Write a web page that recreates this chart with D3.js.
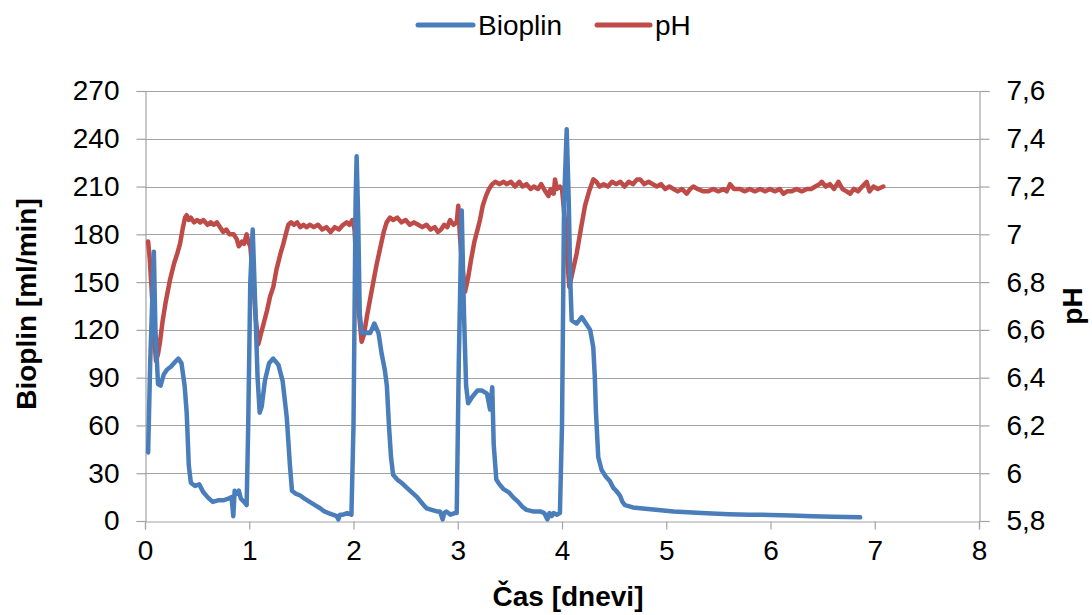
<!DOCTYPE html>
<html>
<head>
<meta charset="utf-8">
<script src="https://cdn.jsdelivr.net/npm/d3@7/dist/d3.min.js"></script>
<style>
  html, body { margin: 0; padding: 0; background: #fff; }
  svg { display: block; }
  text { font-family: "Liberation Sans", Arial, sans-serif; fill: #000; }
</style>
</head>
<body>
<svg id="chart" width="1092" height="615"></svg>
<script>
// ---------------- DATA ----------------
const seriesNames = ["Bioplin", "pH"];
const xTicks = [0, 1, 2, 3, 4, 5, 6, 7, 8];
const leftTicks = [0, 30, 60, 90, 120, 150, 180, 210, 240, 270];
const rightTicks = [5.8, 6.0, 6.2, 6.4, 6.6, 6.8, 7.0, 7.2, 7.4, 7.6];

const bioplinDays = [
  0.03, 0.05, 0.085, 0.10, 0.125, 0.15, 0.18, 0.21, 0.25, 0.29, 0.32, 0.35, 0.38, 0.40, 0.42, 0.44, 0.48, 0.52, 0.56, 0.60,
  0.65, 0.70, 0.75, 0.80, 0.83, 0.847, 0.86, 0.88, 0.90, 0.92, 0.95, 0.975, 0.99, 1.01, 1.033, 1.05, 1.08, 1.10, 1.12, 1.15,
  1.19, 1.23, 1.28, 1.32, 1.36, 1.39, 1.41, 1.45, 1.49, 1.53, 1.58, 1.63, 1.68, 1.72, 1.76, 1.80, 1.84, 1.855, 1.87, 1.90,
  1.94, 1.98, 2.00, 2.02, 2.03, 2.045, 2.06, 2.08, 2.12, 2.16, 2.20, 2.24, 2.27, 2.30, 2.32, 2.34, 2.36, 2.38, 2.42, 2.46,
  2.51, 2.56, 2.61, 2.66, 2.70, 2.75, 2.80, 2.83, 2.855, 2.87, 2.89, 2.93, 2.97, 2.99, 3.01, 3.038, 3.06, 3.08, 3.10, 3.14,
  3.19, 3.23, 3.28, 3.31, 3.331, 3.345, 3.37, 3.40, 3.44, 3.49, 3.53, 3.58, 3.62, 3.66, 3.72, 3.79, 3.83, 3.859, 3.88, 3.90,
  3.92, 3.95, 3.98, 4.00, 4.02, 4.045, 4.065, 4.08, 4.093, 4.14, 4.19, 4.23, 4.27, 4.30, 4.315, 4.326, 4.348, 4.38, 4.42, 4.46,
  4.49, 4.52, 4.556, 4.58, 4.604, 4.68, 4.75, 4.90, 5.07, 5.25, 5.39, 5.60, 5.80, 6.00, 6.20, 6.40, 6.60, 6.86
];
const bioplinValues = [
  43, 100, 169, 120, 86, 85, 92, 95, 97, 100, 102, 99, 85, 68, 35, 24, 22, 23, 18, 15,
  12, 13, 13, 14, 15, 3, 19, 17, 19, 14, 12, 10, 60, 150, 183, 150, 90, 68, 72, 88,
  99, 102, 98, 88, 65, 35, 19, 17, 16, 14, 12, 10, 8, 6, 5, 4, 3, 1, 4, 4,
  5, 4, 60, 200, 229, 190, 130, 118, 118, 118, 124, 118, 105, 95, 85, 60, 40, 29, 26, 24,
  21, 18, 15, 11, 8, 7, 6, 6, 1, 5, 6, 4, 5, 5, 100, 195, 130, 85, 74, 78,
  82, 82, 80, 70, 84, 48, 26, 23, 20, 18, 15, 12, 9, 7, 6, 6, 5, 1, 5, 3,
  5, 4, 5, 60, 200, 246, 200, 150, 126, 124, 128, 124, 120, 109, 90, 68, 40, 32, 28, 25,
  21, 19, 16, 12, 10, 8.5, 8, 7, 6, 5.3, 4.8, 4.3, 4.0, 3.8, 3.4, 3.0, 2.7, 2.3
];

const phDays = [
  0.03, 0.045, 0.07, 0.09, 0.106, 0.125, 0.144, 0.17, 0.20, 0.24, 0.28, 0.31, 0.336, 0.36, 0.384, 0.40, 0.42, 0.44, 0.47, 0.50,
  0.53, 0.56, 0.60, 0.63, 0.66, 0.69, 0.72, 0.75, 0.78, 0.81, 0.85, 0.88, 0.90, 0.93, 0.95, 0.975, 0.99, 1.01, 1.04, 1.06,
  1.087, 1.11, 1.14, 1.17, 1.20, 1.231, 1.26, 1.30, 1.327, 1.35, 1.375, 1.40, 1.43, 1.46, 1.49, 1.52, 1.55, 1.58, 1.62, 1.66,
  1.70, 1.74, 1.78, 1.82, 1.86, 1.90, 1.935, 1.96, 1.99, 2.01, 2.03, 2.05, 2.078, 2.10, 2.13, 2.16, 2.19, 2.22, 2.26, 2.29,
  2.318, 2.35, 2.38, 2.42, 2.46, 2.50, 2.54, 2.58, 2.62, 2.66, 2.70, 2.74, 2.78, 2.81, 2.84, 2.87, 2.90, 2.926, 2.96, 2.99,
  3.005, 3.02, 3.04, 3.07, 3.10, 3.13, 3.16, 3.19, 3.213, 3.24, 3.27, 3.30, 3.33, 3.36, 3.40, 3.44, 3.47, 3.51, 3.55, 3.59,
  3.62, 3.66, 3.70, 3.73, 3.77, 3.80, 3.84, 3.87, 3.89, 3.92, 3.933, 3.95, 3.98, 4.00, 4.03, 4.05, 4.07, 4.10, 4.141, 4.18,
  4.221, 4.26, 4.30, 4.33, 4.36, 4.40, 4.44, 4.48, 4.52, 4.56, 4.60, 4.64, 4.68, 4.72, 4.75, 4.79, 4.83, 4.87, 4.91, 4.95,
  4.99, 5.03, 5.07, 5.11, 5.15, 5.196, 5.23, 5.26, 5.30, 5.356, 5.40, 5.45, 5.50, 5.55, 5.58, 5.612, 5.65, 5.708, 5.75, 5.80,
  5.85, 5.90, 5.95, 5.995, 6.04, 6.09, 6.123, 6.16, 6.20, 6.25, 6.30, 6.35, 6.39, 6.43, 6.47, 6.491, 6.53, 6.57, 6.61, 6.651,
  6.69, 6.73, 6.763, 6.80, 6.84, 6.88, 6.923, 6.95, 6.987, 7.03, 7.082
];
const phValues = [
  6.97, 6.90, 6.72, 6.55, 6.47, 6.50, 6.55, 6.64, 6.72, 6.81, 6.88, 6.92, 6.96, 7.02, 7.07, 7.08, 7.06, 7.07, 7.05, 7.06,
  7.05, 7.06, 7.04, 7.05, 7.04, 7.05, 7.03, 7.01, 7.02, 7.00, 7.00, 6.98, 6.95, 6.97, 6.96, 7.00, 6.97, 6.95, 6.80, 6.66,
  6.54, 6.58, 6.63, 6.68, 6.74, 6.78, 6.85, 6.92, 6.96, 7.00, 7.04, 7.05, 7.04, 7.05, 7.03, 7.04, 7.03, 7.04, 7.03, 7.04,
  7.02, 7.03, 7.01, 7.03, 7.02, 7.04, 7.05, 7.04, 7.06, 7.02, 6.85, 6.68, 6.55, 6.58, 6.66, 6.73, 6.80, 6.87, 6.95, 7.01,
  7.05, 7.07, 7.06, 7.07, 7.05, 7.06, 7.04, 7.05, 7.04, 7.03, 7.04, 7.02, 7.03, 7.01, 7.02, 7.04, 7.03, 7.06, 7.04, 7.05,
  7.12, 7.00, 6.88, 6.76, 6.82, 6.90, 6.97, 7.02, 7.06, 7.12, 7.16, 7.19, 7.21, 7.22, 7.21, 7.22, 7.21, 7.22, 7.20, 7.22,
  7.20, 7.21, 7.19, 7.20, 7.19, 7.21, 7.18, 7.16, 7.19, 7.17, 7.23, 7.19, 7.20, 7.19, 7.05, 6.90, 6.78, 6.84, 6.92, 7.02,
  7.12, 7.18, 7.23, 7.22, 7.20, 7.21, 7.20, 7.22, 7.21, 7.22, 7.20, 7.22, 7.21, 7.23, 7.23, 7.21, 7.22, 7.21, 7.20, 7.21,
  7.19, 7.20, 7.19, 7.18, 7.19, 7.17, 7.19, 7.20, 7.19, 7.18, 7.18, 7.19, 7.18, 7.19, 7.18, 7.21, 7.19, 7.19, 7.18, 7.19,
  7.18, 7.19, 7.18, 7.19, 7.18, 7.19, 7.17, 7.18, 7.18, 7.19, 7.18, 7.19, 7.19, 7.20, 7.21, 7.22, 7.20, 7.21, 7.19, 7.22,
  7.19, 7.18, 7.17, 7.19, 7.18, 7.20, 7.22, 7.18, 7.20, 7.19, 7.20
];

// ---------------- LAYOUT ----------------
const colors = { bio: "#4a7ebb", ph: "#be4b48" };
const gridColor = "#a3a3a3";
const plot = { left: 145, right: 979, top: 91, bottom: 521 };

const svg = d3.select("#chart");
svg.append("rect").attr("width", 1092).attr("height", 615).attr("fill", "#fff");

const x = d3.scaleLinear().domain([0, 8]).range([plot.left, plot.right]);
const yL = d3.scaleLinear().domain([0, 270]).range([plot.bottom, plot.top]);
const yR = d3.scaleLinear().domain([5.8, 7.6]).range([plot.bottom, plot.top]);

const fmtComma = v => d3.format("~g")(+v.toFixed(2)).replace(".", ",");

// horizontal gridlines
svg.append("g").selectAll("line").data(leftTicks.filter(d => d !== 0)).join("line")
  .attr("x1", plot.left).attr("x2", plot.right)
  .attr("y1", d => Math.round(yL(d)) + 0.5).attr("y2", d => Math.round(yL(d)) + 0.5)
  .attr("stroke", gridColor).attr("stroke-width", 1.2);

// left axis
const leftAxis = d3.axisLeft(yL).tickValues(leftTicks).tickSize(9).tickPadding(17).tickFormat(d3.format("d"));
const gL = svg.append("g").attr("transform", `translate(${plot.left + 0.5},0)`).call(leftAxis);
// right axis
const rightAxis = d3.axisRight(yR).tickValues(rightTicks).tickSize(10).tickPadding(17).tickFormat(fmtComma);
const gR = svg.append("g").attr("transform", `translate(${plot.right + 0.5},0)`).call(rightAxis);
// bottom axis
const bottomAxis = d3.axisBottom(x).tickValues(xTicks).tickSize(8).tickPadding(10).tickFormat(d3.format("d"));
const gB = svg.append("g").attr("transform", `translate(0,${plot.bottom + 0.5})`).call(bottomAxis);

[gL, gR, gB].forEach(g => {
  g.select(".domain").attr("stroke", gridColor).attr("stroke-width", 1.2);
  g.selectAll(".tick line").attr("stroke", gridColor).attr("stroke-width", 1.2);
  g.selectAll(".tick text").attr("font-size", 28).attr("font-family", "Liberation Sans, Arial, sans-serif").attr("fill", "#000");
});
gB.selectAll(".tick text").attr("dy", "0.72em");

// lines
const lineBio = d3.line().x(d => x(d[0])).y(d => yL(d[1]));
const linePh = d3.line().x(d => x(d[0])).y(d => yR(d[1]));
const bioData = bioplinDays.map((d, i) => [d, bioplinValues[i]]);
const phData = phDays.map((d, i) => [d, phValues[i]]);

svg.append("path").datum(phData).attr("d", linePh)
  .attr("fill", "none").attr("stroke", colors.ph).attr("stroke-width", 4.5)
  .attr("stroke-linejoin", "round").attr("stroke-linecap", "round");
svg.append("path").datum(bioData).attr("d", lineBio)
  .attr("fill", "none").attr("stroke", colors.bio).attr("stroke-width", 4.5)
  .attr("stroke-linejoin", "round").attr("stroke-linecap", "round");

// axis titles
svg.append("text").attr("transform", "translate(36,304) rotate(-90)")
  .attr("text-anchor", "middle").attr("font-size", 28).attr("font-weight", "bold")
  .text("Bioplin [ml/min]");
svg.append("text").attr("transform", "translate(1082,306) rotate(-90)")
  .attr("text-anchor", "middle").attr("font-size", 28).attr("font-weight", "bold")
  .text("pH");
svg.append("text").attr("x", 568).attr("y", 606)
  .attr("text-anchor", "middle").attr("font-size", 28).attr("font-weight", "bold")
  .text("Čas [dnevi]");

// legend
const legendItems = [
  { name: seriesNames[0], color: colors.bio, x1: 418, x2: 473, tx: 478 },
  { name: seriesNames[1], color: colors.ph, x1: 597, x2: 650, tx: 655 }
];
const lg = svg.append("g");
legendItems.forEach(it => {
  lg.append("line").attr("x1", it.x1).attr("x2", it.x2).attr("y1", 25).attr("y2", 25)
    .attr("stroke", it.color).attr("stroke-width", 5).attr("stroke-linecap", "round");
  lg.append("text").attr("x", it.tx).attr("y", 35).attr("font-size", 28).text(it.name);
});
</script>
</body>
</html>
